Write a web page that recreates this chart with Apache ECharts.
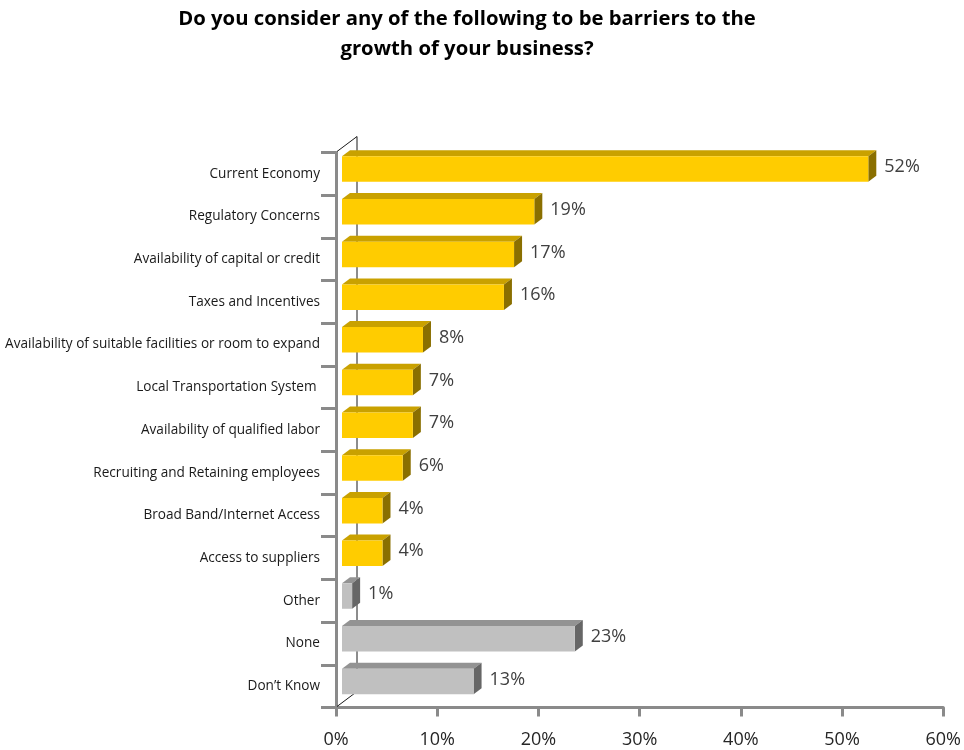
<!DOCTYPE html>
<html>
<head>
<meta charset="utf-8">
<title>Barriers to business growth</title>
<script src="https://cdn.jsdelivr.net/npm/echarts@6/dist/echarts.min.js"></script>
<style>
  html, body { margin: 0; padding: 0; background: #ffffff; }
  #chart { width: 964px; height: 750px; }
</style>
</head>
<body>
<div id="chart"></div>
<script>
// Survey responses: share of businesses naming each barrier
const categories = [
  'Current Economy',
  'Regulatory Concerns',
  'Availability of capital or credit',
  'Taxes and Incentives',
  'Availability of suitable facilities or room to expand',
  'Local Transportation System ',
  'Availability of qualified labor',
  'Recruiting and Retaining employees',
  'Broad Band/Internet Access',
  'Access to suppliers',
  'Other',
  'None',
  'Don\u2019t Know'
];
const percentages = [52, 19, 17, 16, 8, 7, 7, 6, 4, 4, 1, 23, 13];
// 'barrier' = a named barrier, 'other' = other / no barrier / unsure
const responseGroup = [
  'barrier', 'barrier', 'barrier', 'barrier', 'barrier',
  'barrier', 'barrier', 'barrier', 'barrier', 'barrier',
  'other', 'other', 'other'
];
const axisMin = 0;
const axisMax = 60;
const axisStep = 10;

// Face colours for the extruded bars
const palettes = {
  barrier: { front: '#FFCC00', top: '#C9A100', side: '#8A6F00' },
  other:   { front: '#C0C0C0', top: '#939393', side: '#666666' }
};

const FONT = '"Open Sans", Lato, sans-serif';
const AXIS_GREY = '#8a8a8a';

// depth of the bars and of the back wall
const BAR_SHIFT = 6, BAR_DX = 8, BAR_DY = 6;
const WALL_DX = 21, WALL_DY = 16;
const LABEL_GAP = 8;

function renderBar(params, api) {
  const value = api.value(0);
  const idx = api.value(1);
  const base = api.coord([0, idx]);
  const end = api.coord([value, idx]);
  const x0 = base[0] + BAR_SHIFT;
  const x1 = end[0] + BAR_SHIFT;
  const top = base[1] - 17.5;
  const bottom = base[1] + 8;
  const pal = palettes[responseGroup[idx]];
  return {
    type: 'group',
    children: [
      {
        type: 'polygon',
        shape: { points: [[x0, top], [x0 + BAR_DX, top - BAR_DY], [x1 + BAR_DX, top - BAR_DY], [x1, top]] },
        style: { fill: pal.top }
      },
      {
        type: 'polygon',
        shape: { points: [[x1, top], [x1 + BAR_DX, top - BAR_DY], [x1 + BAR_DX, bottom - BAR_DY], [x1, bottom]] },
        style: { fill: pal.side }
      },
      {
        type: 'rect',
        shape: { x: x0, y: top, width: x1 - x0, height: bottom - top },
        style: { fill: pal.front }
      },
      {
        type: 'text',
        style: {
          text: value + '%',
          x: x1 + BAR_DX + LABEL_GAP,
          y: (top + bottom) / 2 - 2,
          verticalAlign: 'middle',
          align: 'left',
          font: '18px ' + FONT,
          fill: '#404040'
        }
      }
    ]
  };
}

// Thin outline of the back wall behind the bars
function renderWall(params, api) {
  const band = api.size([0, 1])[1];
  const first = api.coord([axisMin, 0]);
  const last = api.coord([axisMin, categories.length - 1]);
  const x = first[0];
  const yTop = first[1] - band / 2;
  const yBot = last[1] + band / 2;
  const lineStyle = { stroke: '#1a1a1a', lineWidth: 1, fill: null };
  return {
    type: 'group',
    children: [
      { type: 'polyline', shape: { points: [[x + 1, yTop - 1], [x + WALL_DX, yTop - WALL_DY], [x + WALL_DX, yBot - WALL_DY]] }, style: lineStyle },
      { type: 'line', shape: { x1: x + 1, y1: yBot - 1, x2: x + WALL_DX, y2: yBot - WALL_DY }, style: lineStyle }
    ]
  };
}

const chart = echarts.init(document.getElementById('chart'), null, { renderer: 'canvas' });

chart.setOption({
  backgroundColor: '#ffffff',
  animation: false,
  title: {
    text: 'Do you consider any of the following to be barriers to the\ngrowth of your business?',
    left: 462,
    top: -1,
    textAlign: 'center',
    textStyle: {
      fontFamily: FONT,
      fontWeight: 'bold',
      fontSize: 20.3,
      lineHeight: 30,
      color: '#000000'
    }
  },
  grid: {
    left: 336,
    right: 17,
    top: 152.5,
    bottom: 42.5,
    containLabel: false
  },
  xAxis: {
    type: 'value',
    min: axisMin,
    max: axisMax,
    interval: axisStep,
    splitLine: { show: false },
    axisLine: { show: true, lineStyle: { color: AXIS_GREY, width: 3 } },
    axisTick: { show: true, inside: false, length: 9, lineStyle: { color: AXIS_GREY, width: 3 } },
    axisLabel: {
      formatter: '{value}%',
      margin: 23,
      fontFamily: FONT,
      fontSize: 18,
      color: '#262626'
    }
  },
  yAxis: {
    type: 'category',
    data: categories,
    inverse: true,
    boundaryGap: true,
    splitLine: { show: false },
    axisLine: { show: true, lineStyle: { color: AXIS_GREY, width: 3 } },
    axisTick: { show: true, inside: false, length: 15, lineStyle: { color: AXIS_GREY, width: 3 } },
    axisLabel: {
      margin: 16,
      fontFamily: FONT,
      fontSize: 13.6,
      color: '#1a1a1a',
      interval: 0
    }
  },
  series: [
    {
      type: 'custom',
      name: 'wall',
      z: 1,
      silent: true,
      renderItem: renderWall,
      encode: { x: 0, y: 1 },
      data: [[axisMin, 0]]
    },
    {
      type: 'custom',
      name: 'Responses',
      z: 3,
      renderItem: renderBar,
      encode: { x: 0, y: 1 },
      data: percentages.map((v, i) => [v, i])
    }
  ]
});
</script>
</body>
</html>
